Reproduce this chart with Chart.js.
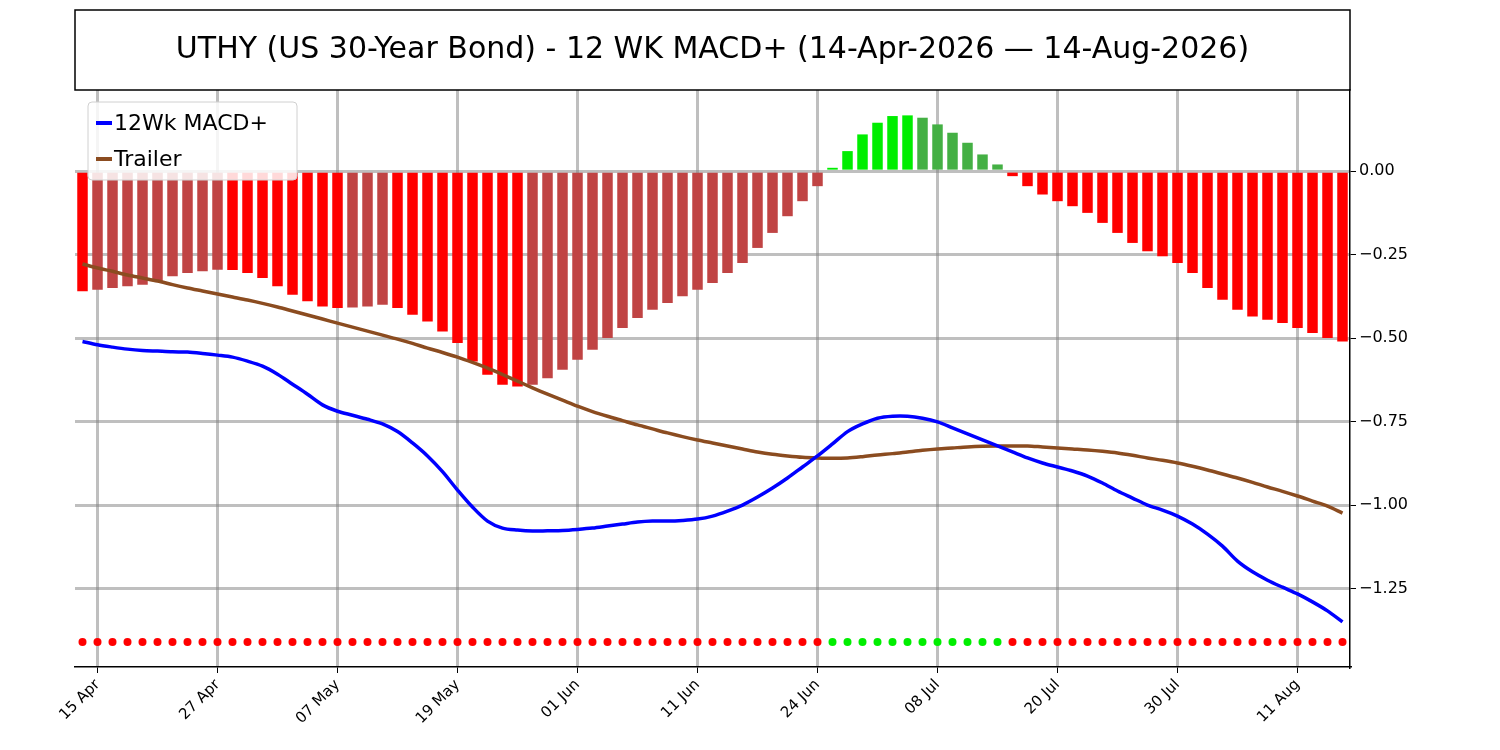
<!DOCTYPE html>
<html>
<head>
<meta charset="utf-8">
<script src="https://cdn.jsdelivr.net/npm/chart.js@4"></script>
<style>
  body { margin: 0; background: #fff; }
  canvas { display: block; }
</style>
</head>
<body>
<canvas id="chart" width="1500" height="750"></canvas>
<script>
const titleText = 'UTHY (US 30-Year Bond) - 12 WK MACD+ (14-Apr-2026 \u2014 14-Aug-2026)';

// one bar per trading day, 14 Apr .. 14 Aug; dates shown every 8th bar
const tickIndexes = [1, 9, 17, 25, 33, 41, 49, 57, 65, 73, 81];
const tickLabels = ['15 Apr', '27 Apr', '07 May', '19 May', '01 Jun', '11 Jun', '24 Jun', '08 Jul', '20 Jul', '30 Jul', '11 Aug'];

const histogram = [
  -0.36, -0.355, -0.35, -0.345, -0.34, -0.33, -0.315, -0.305, -0.30, -0.295,
  -0.296, -0.305, -0.32, -0.345, -0.37, -0.39, -0.405, -0.41, -0.408, -0.405,
  -0.40, -0.41, -0.43, -0.45, -0.48, -0.515, -0.57, -0.61, -0.64, -0.645,
  -0.64, -0.62, -0.595, -0.565, -0.535, -0.50, -0.47, -0.44, -0.415, -0.395,
  -0.375, -0.355, -0.335, -0.305, -0.275, -0.23, -0.185, -0.135, -0.09, -0.045,
  0.01, 0.06, 0.11, 0.145, 0.165, 0.167, 0.16, 0.14, 0.115, 0.085,
  0.05, 0.02, -0.015, -0.045, -0.07, -0.09, -0.105, -0.125, -0.155, -0.185,
  -0.215, -0.24, -0.255, -0.275, -0.305, -0.35, -0.385, -0.415, -0.435, -0.445,
  -0.455, -0.47, -0.485, -0.50, -0.51
];

const macdLine = [
  -0.51, -0.52, -0.527, -0.533, -0.537, -0.539, -0.541, -0.542, -0.546, -0.551,
  -0.557, -0.569, -0.584, -0.608, -0.638, -0.668, -0.70, -0.719, -0.731, -0.743,
  -0.757, -0.78, -0.814, -0.853, -0.90, -0.955, -1.006, -1.048, -1.069, -1.075,
  -1.078, -1.077, -1.076, -1.073, -1.069, -1.063, -1.057, -1.051, -1.048, -1.048,
  -1.046, -1.042, -1.033, -1.018, -1.0, -0.976, -0.949, -0.919, -0.886, -0.853,
  -0.817, -0.78, -0.757, -0.74, -0.734, -0.734, -0.74, -0.751, -0.769, -0.787,
  -0.805, -0.823, -0.841, -0.859, -0.874, -0.886, -0.898, -0.913, -0.934, -0.958,
  -0.979, -1.0, -1.015, -1.033, -1.057, -1.087, -1.123, -1.168, -1.2, -1.225,
  -1.246, -1.266, -1.29, -1.317, -1.35
];

const trailerLine = [
  -0.278, -0.29, -0.30, -0.311, -0.32, -0.329, -0.34, -0.35, -0.359, -0.368,
  -0.377, -0.386, -0.396, -0.407, -0.419, -0.431, -0.443, -0.455, -0.467, -0.479,
  -0.491, -0.503, -0.516, -0.53, -0.543, -0.557, -0.573, -0.59, -0.609, -0.629,
  -0.649, -0.668, -0.686, -0.704, -0.72, -0.734, -0.747, -0.76, -0.772, -0.784,
  -0.795, -0.805, -0.814, -0.823, -0.832, -0.841, -0.848, -0.853, -0.857, -0.859,
  -0.86, -0.859, -0.855, -0.85, -0.846, -0.841, -0.836, -0.832, -0.829, -0.826,
  -0.824, -0.823, -0.823, -0.823, -0.826, -0.829, -0.832, -0.835, -0.839, -0.844,
  -0.851, -0.859, -0.866, -0.874, -0.884, -0.895, -0.907, -0.919, -0.932, -0.946,
  -0.959, -0.973, -0.988, -1.003, -1.024
];

const dotLevel = -1.41;
const yTicks = [0, -0.25, -0.5, -0.75, -1.0, -1.25];

const labels = histogram.map((v, i) => i);

const barColors = histogram.map((v, i) => {
  const prev = i > 0 ? histogram[i - 1] : v;
  if (v >= 0) return v > prev ? '#00ee00' : '#44b044';
  return v < prev || i === 0 ? '#ff0000' : '#c04444';
});
const dotColors = histogram.map(v => v >= 0 ? '#00ee00' : '#ff0000');

const boxPlugin = {
  id: 'boxes',
  afterDraw(chart) {
    const ctx = chart.ctx;
    const a = chart.chartArea;
    ctx.save();
    // title box
    ctx.strokeStyle = '#000';
    ctx.lineWidth = 1.5;
    ctx.strokeRect(a.left, 10, a.right - a.left, a.top - 10);
    ctx.fillStyle = '#000';
    ctx.font = '30px "DejaVu Sans"';
    ctx.textAlign = 'center';
    ctx.textBaseline = 'middle';
    ctx.fillText(titleText, (a.left + a.right) / 2, 50);
    // legend
    const lx = 88, ly = 102;
    ctx.fillStyle = 'rgba(255,255,255,0.85)';
    ctx.strokeStyle = '#d0d0d0';
    ctx.lineWidth = 1;
    ctx.beginPath();
    ctx.roundRect(lx, ly, 209, 78, 4);
    ctx.fill();
    ctx.stroke();
    const items = [['12Wk MACD+', '#0000ff'], ['Trailer', '#8b4c20']];
    ctx.font = '22px "DejaVu Sans"';
    ctx.textAlign = 'left';
    items.forEach((it, k) => {
      const y = ly + 21 + k * 36;
      ctx.strokeStyle = it[1];
      ctx.lineWidth = 4;
      ctx.beginPath();
      ctx.moveTo(lx + 8, y);
      ctx.lineTo(lx + 24, y);
      ctx.stroke();
      ctx.fillStyle = '#000';
      ctx.fillText(it[0], lx + 26, y + 1);
    });
    ctx.restore();
  }
};

new Chart(document.getElementById('chart'), {
  data: {
    labels: labels,
    datasets: [
      { type: 'bar', data: histogram, backgroundColor: barColors,
        barPercentage: 0.7, categoryPercentage: 1, order: 3 },
      { type: 'line', data: macdLine, borderColor: '#0000ff', borderWidth: 3.5,
        pointRadius: 0, tension: 0.3, order: 2 },
      { type: 'line', data: trailerLine, borderColor: '#8b4c20', borderWidth: 3.5,
        pointRadius: 0, tension: 0.3, order: 2 },
      { type: 'line', data: histogram.map(() => dotLevel), showLine: false,
        pointRadius: 4, pointBorderWidth: 0, pointBackgroundColor: dotColors, order: 1 }
    ]
  },
  options: {
    responsive: false,
    devicePixelRatio: 1,
    animation: false,
    layout: { padding: { left: 75, top: 90, right: 0, bottom: 0 } },
    plugins: { legend: { display: false }, title: { display: false }, tooltip: { enabled: false } },
    scales: {
      x: {
        offset: true,
        afterBuildTicks: s => { s.ticks = s.ticks.filter(t => tickIndexes.includes(t.value)); },
        afterFit: s => { s.height = 83; },
        ticks: {
          autoSkip: false, maxRotation: 45, minRotation: 45,
          color: '#000', font: { family: 'DejaVu Sans', size: 15 },
          callback: v => tickLabels[tickIndexes.indexOf(v)]
        },
        grid: { color: 'rgba(128,128,128,0.5)', lineWidth: 3, tickColor: '#000', tickLength: 6, tickWidth: 1, offset: false },
        border: { color: '#000', width: 1.5 }
      },
      y: {
        position: 'right',
        min: -1.485, max: 0.243,
        afterBuildTicks: s => { s.ticks = yTicks.map(v => ({ value: v })); },
        afterFit: s => { s.width = 150; },
        ticks: {
          color: '#000', font: { family: 'DejaVu Sans', size: 16 },
          callback: v => (v < 0 ? '\u2212' : '') + Math.abs(v).toFixed(2)
        },
        grid: { color: 'rgba(128,128,128,0.5)', lineWidth: 3, tickColor: '#000', tickLength: 6, tickWidth: 1 },
        border: { color: '#000', width: 1.5 }
      }
    }
  },
  plugins: [boxPlugin]
});
</script>
</body>
</html>
